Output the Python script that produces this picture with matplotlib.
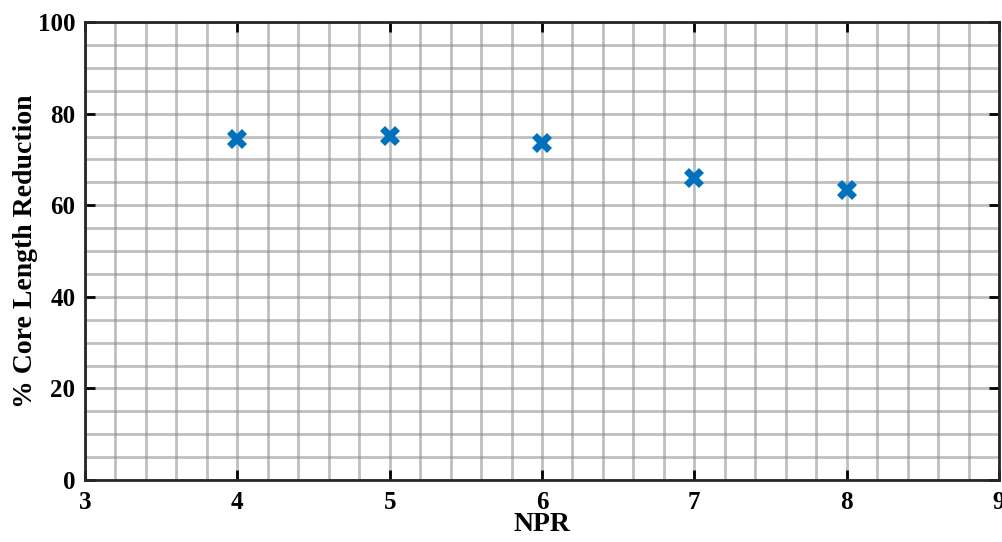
import matplotlib
matplotlib.use("Agg")
import matplotlib.pyplot as plt
import numpy as np
from matplotlib.ticker import MultipleLocator

# Data
npr = [4, 5, 6, 7, 8]
core_reduction = [74.5, 75.2, 73.6, 65.9, 63.3]

plt.rcParams['font.family'] = ['Liberation Serif', 'DejaVu Serif']
plt.rcParams['font.weight'] = 'bold'

fig = plt.figure(figsize=(10.03, 5.42), dpi=100)
ax = fig.add_axes([85 / 1003, 1 - 480 / 542, (999 - 85) / 1003, (480 - 22) / 542])

ax.plot(npr, core_reduction, linestyle='none', marker='X', markersize=14,
        color='#0072BD', markeredgewidth=0, zorder=3)

ax.set_xlim(3, 9)
ax.set_ylim(0, 100)
ax.xaxis.set_major_locator(MultipleLocator(1))
ax.yaxis.set_major_locator(MultipleLocator(20))
ax.xaxis.set_minor_locator(MultipleLocator(0.2))
ax.yaxis.set_minor_locator(MultipleLocator(5))

# MATLAB style grid: all lines the same gray
ax.grid(True, which='both', color='#8c8c8c', linewidth=2, alpha=0.55)
ax.set_axisbelow(True)

ax.tick_params(which='major', direction='in', length=7, width=2,
               top=True, right=True, labelsize=18, pad=8)
ax.tick_params(axis='y', which='major', pad=7)
ax.tick_params(which='minor', length=0)
for s in ax.spines.values():
    s.set_linewidth(2)
    s.set_color('#262626')

for lbl in ax.get_xticklabels() + ax.get_yticklabels():
    lbl.set_fontweight('bold')

ax.set_xlabel('NPR', fontsize=20, fontweight='bold', va='center')
ax.xaxis.set_label_coords(0.5, -0.098)
ax.set_ylabel('% Core Length Reduction', fontsize=20, fontweight='bold', va='center')
ax.yaxis.set_label_coords(-0.0646, 0.5)

fig.savefig('out.png', dpi=100)
